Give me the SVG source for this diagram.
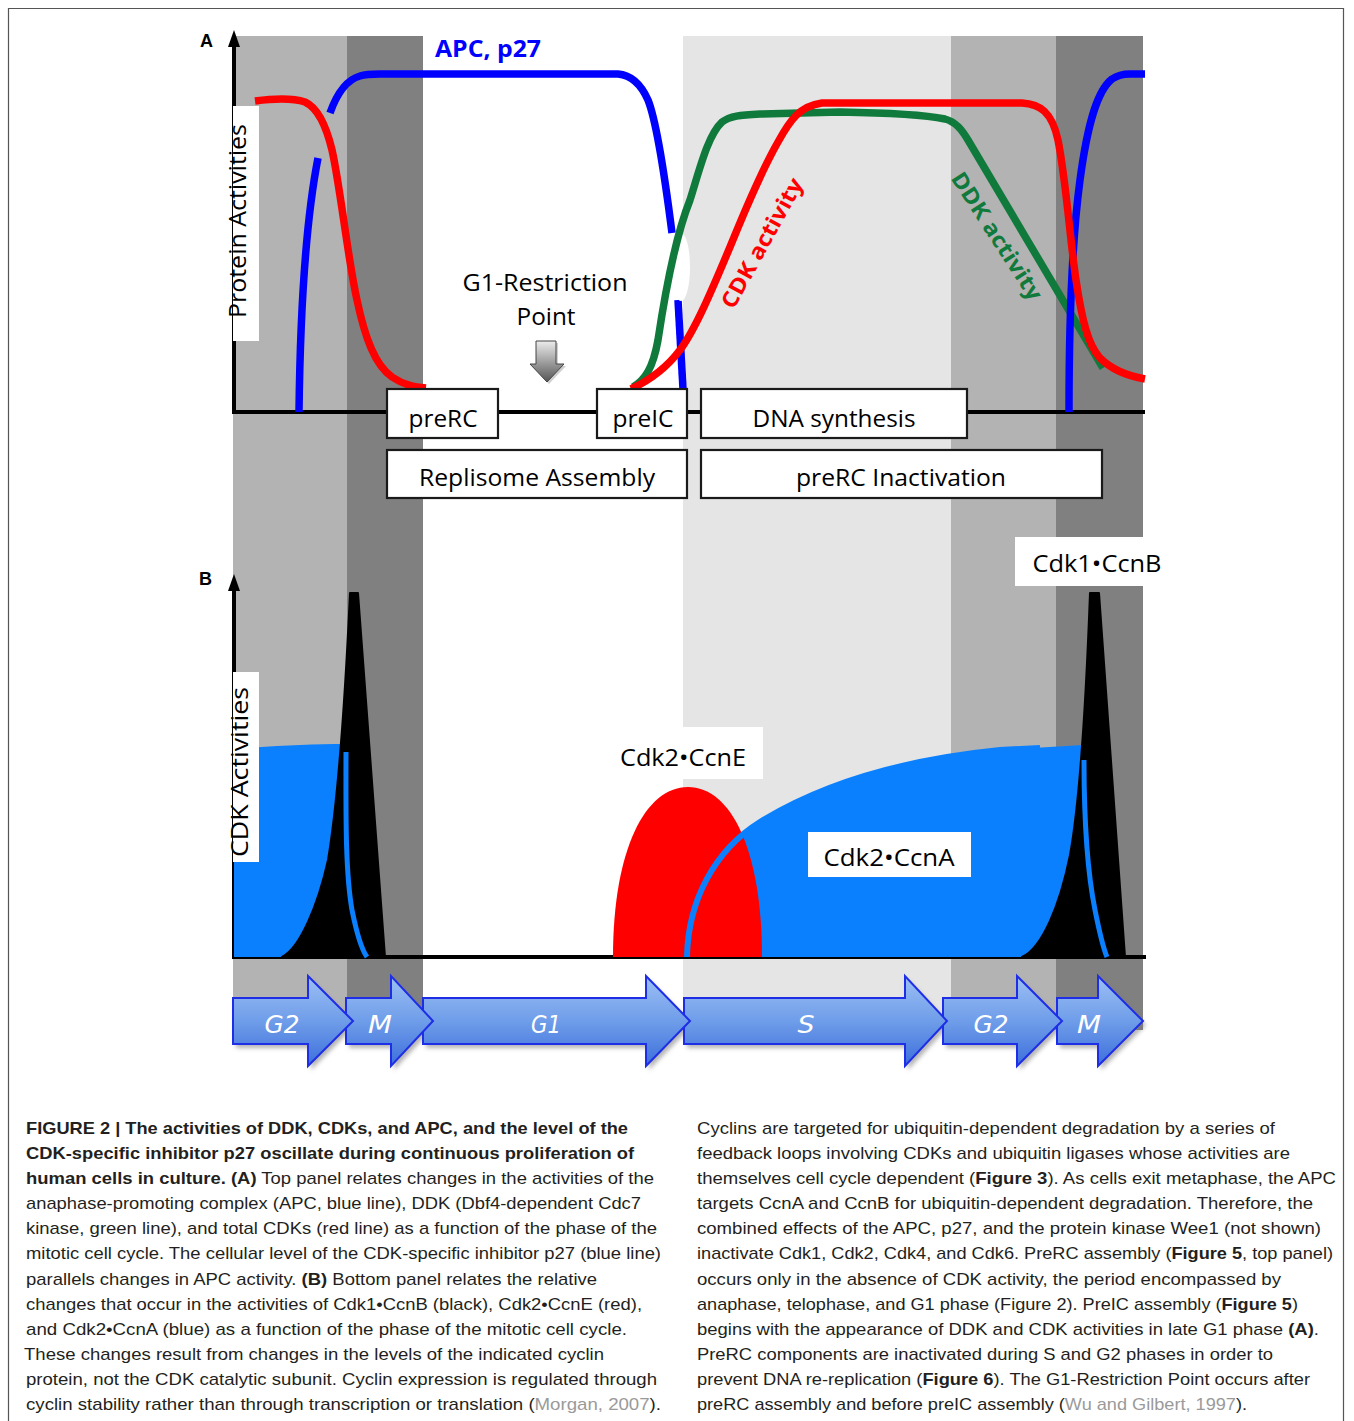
<svg xmlns="http://www.w3.org/2000/svg" width="1354" height="1421" viewBox="0 0 1354 1421">
<defs>
<style>
.lbl{font-family:"Open Sans","Liberation Sans",sans-serif;fill:#000;}
.box{fill:#fff;stroke:#1a1a1a;stroke-width:2.2;}
.wbox{fill:#fff;stroke:none;}
.crv{fill:none;stroke-width:7.5;stroke-linecap:butt;stroke-linejoin:round;}
.ax{stroke:#000;stroke-width:4;fill:none;}
.phase{fill:url(#arrowGrad);stroke:#1e2ee6;stroke-width:2;}
.phase-sh{fill:#777;opacity:0.55;}
.ph{font-family:"DejaVu Sans","Liberation Sans",sans-serif;font-style:italic;fill:#fff;font-size:25px;}
.cap{font-family:"Liberation Sans",Arial,sans-serif;font-size:17px;fill:#231f20;}
.b{font-weight:bold;}
.ref{fill:#9a9a9a;}
</style>
<linearGradient id="arrowGrad" x1="0" y1="0" x2="0" y2="1">
<stop offset="0" stop-color="#9cc0f5"/>
<stop offset="0.5" stop-color="#6f9de9"/>
<stop offset="1" stop-color="#3c6fdc"/>
</linearGradient>
<linearGradient id="greyGrad" x1="0" y1="0" x2="0" y2="1">
<stop offset="0" stop-color="#ececec"/>
<stop offset="1" stop-color="#555"/>
</linearGradient>
<filter id="blur" x="-10%" y="-20%" width="120%" height="140%"><feGaussianBlur stdDeviation="2"/></filter>
</defs>

<rect x="0" y="0" width="1354" height="1421" fill="#fff"/>
<path d="M8.5,1421 L8.5,8.5 L1343.5,8.5 L1343.5,1421" fill="none" stroke="#555" stroke-width="1.2"/>

<g id="bands">
<rect x="233" y="36" width="114" height="994" fill="#b3b3b3"/>
<rect x="347" y="36" width="76" height="994" fill="#808080"/>
<rect x="683" y="36" width="268" height="994" fill="#e5e5e5"/>
<rect x="951" y="36" width="105" height="994" fill="#b3b3b3"/>
<rect x="1056" y="36" width="87" height="994" fill="#808080"/>
</g>

<g id="axes">
<line class="ax" x1="234" y1="414" x2="234" y2="44"/>
<polygon points="234,30 228,47 240,47" fill="#000"/>
<line class="ax" x1="232" y1="412" x2="1145" y2="412"/>
<line class="ax" x1="234" y1="959" x2="234" y2="588"/>
<polygon points="234,574 228,591 240,591" fill="#000"/>
<line class="ax" x1="232" y1="957" x2="1146" y2="957"/>
<text x="200" y="47" font-family="Liberation Sans,Arial,sans-serif" font-weight="bold" font-size="18">A</text>
<text x="199" y="585" font-family="Liberation Sans,Arial,sans-serif" font-weight="bold" font-size="18">B</text>
</g>

<g id="y-label-A">
<rect class="wbox" x="233" y="106" width="26" height="235"/>
<text class="lbl" transform="translate(246,318) rotate(-90)" font-size="23" textLength="194" lengthAdjust="spacingAndGlyphs">Protein Activities</text>
</g>

<g id="curves-A">
<path class="crv" stroke="#0000ff" d="M299,412 C300,330 304,230 318,158"/>
<path class="crv" stroke="#0000ff" d="M330,113 C336,96 346,80 360,76 C366,74 372,74 380,74 L618,74 C630,75 640,82 648,100 C656,120 664,170 672,233"/>
<path class="crv" stroke="#0000ff" d="M678,300 L683,389"/>
<ellipse cx="681" cy="267" rx="9" ry="34" fill="#fff"/>
<path class="crv" stroke="#107a3c" d="M633,387 C645,380 653,368 658,340 C664,300 674,240 690,200 C700,168 708,135 722,122 C730,116 740,115 760,114 L840,112 C900,113 925,115 945,119 C956,122 962,130 968,140 L1103,368"/>
<path class="crv" stroke="#0000ff" d="M1069,412 C1069,330 1072,240 1080,180 C1088,120 1098,90 1112,79 C1118,75 1124,74 1130,74 L1145,74"/>
<path class="crv" stroke="#ff0000" d="M255,101 C270,99 290,97 305,102 C318,108 326,125 332,150 C340,185 348,260 357,300 C365,338 375,365 392,377 C404,385 414,387 426,388"/>
<path class="crv" stroke="#ff0000" d="M631,389 C648,381 665,370 680,350 C695,330 712,290 730,247 C745,210 762,170 778,142 C790,120 800,106 822,103 L1022,103 C1040,104 1052,112 1058,140 C1066,180 1070,240 1076,280 C1082,320 1088,345 1100,358 C1112,370 1128,376 1145,379"/>
<text class="lbl" transform="translate(762,243) rotate(-61)" text-anchor="middle" dy="0.35em" font-size="22" font-weight="bold" style="fill:#ff0000" textLength="145" lengthAdjust="spacingAndGlyphs">CDK activity</text>
<text class="lbl" transform="translate(997,236) rotate(57)" text-anchor="middle" dy="0.35em" font-size="22" font-weight="bold" style="fill:#107a3c" textLength="148" lengthAdjust="spacingAndGlyphs">DDK activity</text>
<text class="lbl" x="435" y="57" font-size="24" font-weight="bold" style="fill:#0000ff" textLength="106" lengthAdjust="spacingAndGlyphs">APC, p27</text>
</g>

<g id="restriction-point">
<text class="lbl" x="545" y="291" text-anchor="middle" font-size="24" textLength="165" lengthAdjust="spacingAndGlyphs">G1-Restriction</text>
<text class="lbl" x="546" y="325" text-anchor="middle" font-size="24" textLength="59" lengthAdjust="spacingAndGlyphs">Point</text>
<polygon points="538,341 556,341 556,364 564,364 547,382 530,364 538,364" fill="#888" opacity="0.4" transform="translate(2,2)"/>
<polygon points="536,341 556,341 556,364 564,364 547,382 530,364 536,364" fill="url(#greyGrad)" stroke="#444" stroke-width="1"/>
</g>

<g id="node-preRC">
<rect class="box" x="387" y="389" width="111" height="49"/>
<text class="lbl" x="443" y="427" text-anchor="middle" font-size="24" textLength="69" lengthAdjust="spacingAndGlyphs">preRC</text>
</g>
<g id="node-preIC">
<rect class="box" x="597" y="389" width="90" height="49"/>
<text class="lbl" x="643" y="427" text-anchor="middle" font-size="24" textLength="61" lengthAdjust="spacingAndGlyphs">preIC</text>
</g>
<g id="node-dna-synthesis">
<rect class="box" x="701" y="389" width="266" height="49"/>
<text class="lbl" x="834" y="427" text-anchor="middle" font-size="24" textLength="163" lengthAdjust="spacingAndGlyphs">DNA synthesis</text>
</g>
<g id="node-replisome">
<rect class="box" x="387" y="450" width="300" height="48"/>
<text class="lbl" x="537" y="486" text-anchor="middle" font-size="24" textLength="236" lengthAdjust="spacingAndGlyphs">Replisome Assembly</text>
</g>
<g id="node-prerc-inactivation">
<rect class="box" x="701" y="450" width="401" height="48"/>
<text class="lbl" x="901" y="486" text-anchor="middle" font-size="24" textLength="210" lengthAdjust="spacingAndGlyphs">preRC Inactivation</text>
</g>

<g id="panel-B">
<path fill="#0a80ff" d="M234,957 L234,749 C270,746 310,744 345,744 C346,800 345,870 352,910 C357,935 362,950 367,957 Z"/>
<path fill="#0a80ff" d="M686,957 C688,900 715,850 760,822 C820,785 900,760 1000,750 L1083,745 C1083,800 1087,870 1095,910 C1100,935 1104,950 1107,957 Z"/>
<path fill="#ff0000" d="M613,957 C613,850 645,787 688,787 C731,787 762,850 762,957 Z"/>
<path fill="#000" stroke="#000" stroke-width="2" stroke-linejoin="round" d="M282,957 C300,948 318,905 328,860 C338,800 345,700 350,593 L358,593 L385,957 Z"/>
<path fill="#000" stroke="#000" stroke-width="2" stroke-linejoin="round" d="M1022,957 C1042,948 1060,905 1070,855 C1080,800 1086,700 1090,593 L1099,593 L1125,957 Z"/>
<path fill="none" stroke="#0a80ff" stroke-width="5" d="M346,752 C346,810 345,870 352,910 C357,935 362,950 367,957"/>
<path fill="none" stroke="#0a80ff" stroke-width="5" d="M1084,760 C1084,820 1087,870 1095,910 C1100,935 1104,950 1107,957"/>
<path fill="none" stroke="#0a80ff" stroke-width="6" d="M687,957 C688,900 715,850 760,822 C820,785 900,760 1000,750 L1040,748"/>
</g>

<g id="y-label-B">
<rect class="wbox" x="233" y="672" width="26" height="190"/>
<text class="lbl" transform="translate(248,857) rotate(-90)" font-size="23" textLength="170" lengthAdjust="spacingAndGlyphs">CDK Activities</text>
</g>

<g id="node-cdk1-ccnb">
<rect class="wbox" x="1015" y="537" width="160" height="49"/>
<text class="lbl" x="1097" y="572" text-anchor="middle" font-size="24" textLength="129" lengthAdjust="spacingAndGlyphs">Cdk1•CcnB</text>
</g>
<g id="node-cdk2-ccne">
<rect class="wbox" x="605" y="727" width="158" height="52"/>
<text class="lbl" x="683" y="766" text-anchor="middle" font-size="24" textLength="126" lengthAdjust="spacingAndGlyphs">Cdk2•CcnE</text>
</g>
<g id="node-cdk2-ccna">
<rect class="wbox" x="808" y="832" width="163" height="45"/>
<text class="lbl" x="889" y="866" text-anchor="middle" font-size="24" textLength="131" lengthAdjust="spacingAndGlyphs">Cdk2•CcnA</text>
</g>

<g id="phase-arrows">
<g filter="url(#blur)">
<polygon class="phase-sh" transform="translate(3,4)" points="1057,998 1098,998 1098,976 1143,1021 1098,1066 1098,1044 1057,1044"/>
<polygon class="phase-sh" transform="translate(3,4)" points="943,998 1017,998 1017,976 1062,1021 1017,1066 1017,1044 943,1044"/>
<polygon class="phase-sh" transform="translate(3,4)" points="684,998 905,998 905,976 947,1021 905,1066 905,1044 684,1044"/>
<polygon class="phase-sh" transform="translate(3,4)" points="423,998 646,998 646,976 690,1021 646,1066 646,1044 423,1044"/>
<polygon class="phase-sh" transform="translate(3,4)" points="346,998 391,998 391,976 433,1021 391,1066 391,1044 346,1044"/>
<polygon class="phase-sh" transform="translate(3,4)" points="233,998 308,998 308,976 353,1021 308,1066 308,1044 233,1044"/>
</g>
<g id="arrow-M2"><polygon class="phase" points="1057,998 1098,998 1098,976 1143,1021 1098,1066 1098,1044 1057,1044"/><text class="ph" x="1089" y="1033" text-anchor="middle" textLength="24" lengthAdjust="spacingAndGlyphs">M</text></g>
<g id="arrow-G2b"><polygon class="phase" points="943,998 1017,998 1017,976 1062,1021 1017,1066 1017,1044 943,1044"/><text class="ph" x="991" y="1033" text-anchor="middle" textLength="35" lengthAdjust="spacingAndGlyphs">G2</text></g>
<g id="arrow-S"><polygon class="phase" points="684,998 905,998 905,976 947,1021 905,1066 905,1044 684,1044"/><text class="ph" x="806" y="1033" text-anchor="middle" textLength="17" lengthAdjust="spacingAndGlyphs">S</text></g>
<g id="arrow-G1"><polygon class="phase" points="423,998 646,998 646,976 690,1021 646,1066 646,1044 423,1044"/><text class="ph" x="546" y="1033" text-anchor="middle" textLength="30" lengthAdjust="spacingAndGlyphs">G1</text></g>
<g id="arrow-M1"><polygon class="phase" points="346,998 391,998 391,976 433,1021 391,1066 391,1044 346,1044"/><text class="ph" x="380" y="1033" text-anchor="middle" textLength="24" lengthAdjust="spacingAndGlyphs">M</text></g>
<g id="arrow-G2a"><polygon class="phase" points="233,998 308,998 308,976 353,1021 308,1066 308,1044 233,1044"/><text class="ph" x="282" y="1033" text-anchor="middle" textLength="35" lengthAdjust="spacingAndGlyphs">G2</text></g>
</g>

<g id="caption-left">
<text class="cap b" x="26" y="1134" textLength="602" lengthAdjust="spacingAndGlyphs">FIGURE 2 | The activities of DDK, CDKs, and APC, and the level of the</text>
<text class="cap b" x="26" y="1159" textLength="608" lengthAdjust="spacingAndGlyphs">CDK-specific inhibitor p27 oscillate during continuous proliferation of</text>
<text class="cap" x="26" y="1184" textLength="628" lengthAdjust="spacingAndGlyphs"><tspan class="b">human cells in culture. (A)</tspan> Top panel relates changes in the activities of the</text>
<text class="cap" x="26" y="1209" textLength="615" lengthAdjust="spacingAndGlyphs">anaphase-promoting complex (APC, blue line), DDK (Dbf4-dependent Cdc7</text>
<text class="cap" x="26" y="1234" textLength="631" lengthAdjust="spacingAndGlyphs">kinase, green line), and total CDKs (red line) as a function of the phase of the</text>
<text class="cap" x="26" y="1259" textLength="635" lengthAdjust="spacingAndGlyphs">mitotic cell cycle. The cellular level of the CDK-specific inhibitor p27 (blue line)</text>
<text class="cap" x="26" y="1285" textLength="571" lengthAdjust="spacingAndGlyphs">parallels changes in APC activity. <tspan class="b">(B)</tspan> Bottom panel relates the relative</text>
<text class="cap" x="26" y="1310" textLength="616" lengthAdjust="spacingAndGlyphs">changes that occur in the activities of Cdk1•CcnB (black), Cdk2•CcnE (red),</text>
<text class="cap" x="26" y="1335" textLength="601" lengthAdjust="spacingAndGlyphs">and Cdk2•CcnA (blue) as a function of the phase of the mitotic cell cycle.</text>
<text class="cap" x="24" y="1360" textLength="580" lengthAdjust="spacingAndGlyphs">These changes result from changes in the levels of the indicated cyclin</text>
<text class="cap" x="26" y="1385" textLength="631" lengthAdjust="spacingAndGlyphs">protein, not the CDK catalytic subunit. Cyclin expression is regulated through</text>
<text class="cap" x="26" y="1410" textLength="635" lengthAdjust="spacingAndGlyphs">cyclin stability rather than through transcription or translation (<tspan class="ref">Morgan, 2007</tspan>).</text>
</g>

<g id="caption-right">
<text class="cap" x="697" y="1134" textLength="578" lengthAdjust="spacingAndGlyphs">Cyclins are targeted for ubiquitin-dependent degradation by a series of</text>
<text class="cap" x="697" y="1159" textLength="593" lengthAdjust="spacingAndGlyphs">feedback loops involving CDKs and ubiquitin ligases whose activities are</text>
<text class="cap" x="697" y="1184" textLength="639" lengthAdjust="spacingAndGlyphs">themselves cell cycle dependent (<tspan class="b">Figure 3</tspan>). As cells exit metaphase, the APC</text>
<text class="cap" x="697" y="1209" textLength="616" lengthAdjust="spacingAndGlyphs">targets CcnA and CcnB for ubiquitin-dependent degradation. Therefore, the</text>
<text class="cap" x="697" y="1234" textLength="624" lengthAdjust="spacingAndGlyphs">combined effects of the APC, p27, and the protein kinase Wee1 (not shown)</text>
<text class="cap" x="697" y="1259" textLength="636" lengthAdjust="spacingAndGlyphs">inactivate Cdk1, Cdk2, Cdk4, and Cdk6. PreRC assembly (<tspan class="b">Figure 5</tspan>, top panel)</text>
<text class="cap" x="697" y="1285" textLength="584" lengthAdjust="spacingAndGlyphs">occurs only in the absence of CDK activity, the period encompassed by</text>
<text class="cap" x="697" y="1310" textLength="601" lengthAdjust="spacingAndGlyphs">anaphase, telophase, and G1 phase (Figure 2). PreIC assembly (<tspan class="b">Figure 5</tspan>)</text>
<text class="cap" x="697" y="1335" textLength="622" lengthAdjust="spacingAndGlyphs">begins with the appearance of DDK and CDK activities in late G1 phase <tspan class="b">(A)</tspan>.</text>
<text class="cap" x="697" y="1360" textLength="576" lengthAdjust="spacingAndGlyphs">PreRC components are inactivated during S and G2 phases in order to</text>
<text class="cap" x="697" y="1385" textLength="613" lengthAdjust="spacingAndGlyphs">prevent DNA re-replication (<tspan class="b">Figure 6</tspan>). The G1-Restriction Point occurs after</text>
<text class="cap" x="697" y="1410" textLength="550" lengthAdjust="spacingAndGlyphs">preRC assembly and before preIC assembly (<tspan class="ref">Wu and Gilbert, 1997</tspan>).</text>
</g>
</svg>
